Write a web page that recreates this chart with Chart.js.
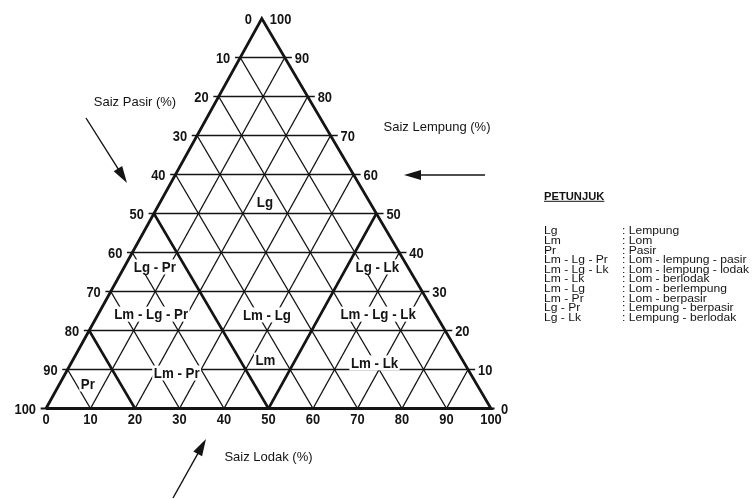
<!DOCTYPE html>
<html><head><meta charset="utf-8">
<script src="https://cdn.jsdelivr.net/npm/chart.js@4/dist/chart.umd.min.js"></script>
<style>html,body{margin:0;padding:0;background:#fff;overflow:hidden}#wrap{position:relative;width:754px;height:499px}</style>
</head><body><div id="wrap"><canvas id="c" width="754" height="499"></canvas></div>
<script>
// ---- data ----
const levels = [0,10,20,30,40,50,60,70,80,90,100];          // Lempung levels (horizontal lines)
const lempungLabels = ['0','10','20','30','40','50','60','70','80','90','100'];   // right side
const pasirLabels = ['100','90','80','70','60','50','40','30','20','10','0'];     // left side
const lodakPos = [0,10,20,30,40,50,60,70,80,90,100];         // base ticks
const lodakLabels = ['0','10','20','30','40','50','60','70','80','90','100'];
const classNames = ['Lg','Lg - Pr','Lg - Lk','Lm - Lg - Pr','Lm - Lg','Lm - Lg - Lk','Lm','Lm - Lk','Lm - Pr','Pr'];
const classX = [50,25,75,24,50,75,49.5,74,29.5,9.5];
const classH = [53,36.3,36.3,24.2,24,24.2,12.4,11.7,9.1,6.3];
const boundaryFrom = [[25,50],[50,0],[10,20]];
const boundaryTo   = [[50,0],[75,50],[20,0]];
const legendCodes = ['Lg','Lm','Pr','Lm - Lg - Pr','Lm - Lg - Lk','Lm - Lk','Lm - Lg','Lm - Pr','Lg - Pr','Lg - Lk'];
const legendNames = ['Lempung','Lom','Pasir','Lom - lempung - pasir','Lom - lempung - lodak','Lom - berlodak','Lom - berlempung','Lom - berpasir','Lempung - berpasir','Lempung - berlodak'];
const titlePasir = 'Saiz Pasir (%)', titleLempung = 'Saiz Lempung (%)', titleLodak = 'Saiz Lodak (%)';
const legendTitle = 'PETUNJUK';

// ---- projection ----
const SKEW = -0.015;
const P = (x,h) => ({x: x + SKEW*h, y: h});
const INK = '#141414';

function seg(a, b, w){
  return {data:[P(a[0],a[1]), P(b[0],b[1])], showLine:true, borderColor:INK, borderWidth:w,
          pointRadius:0, fill:false, borderCapStyle:'butt'};
}
const datasets = [];
// horizontal grid lines with ticks on both sides
levels.forEach(L => { if (L < 100) datasets.push(seg([L/2 - 1.2, L], [100 - L/2 + (L===0?0.8:1.6), L], L===0?2:1.45)); });
// lines parallel to the left side and right side
lodakPos.forEach(t => {
  if (t>0 && t<100) {
    datasets.push(seg([t,0],[50 + t/2, 100 - t], 1.35));
    datasets.push(seg([t,0],[t/2, t], 1.35));
  }
});
// class boundaries
boundaryFrom.forEach((a,i) => datasets.push(seg(a, boundaryTo[i], 2.6)));
// outer triangle
datasets.push({data:[P(0,0),P(50,100),P(100,0),P(0,0)], showLine:true, borderColor:INK, borderWidth:2.8,
  pointRadius:0, fill:false, borderJoinStyle:'miter'});

function arrow(ctx, x1,y1,x2,y2){
  const ang = Math.atan2(y2-y1, x2-x1), len = 17, hw = 5;
  ctx.strokeStyle = INK; ctx.fillStyle = INK; ctx.lineWidth = 1.4;
  ctx.beginPath(); ctx.moveTo(x1,y1);
  ctx.lineTo(x2 - Math.cos(ang)*len*0.8, y2 - Math.sin(ang)*len*0.8); ctx.stroke();
  ctx.beginPath(); ctx.moveTo(x2,y2);
  ctx.lineTo(x2 - Math.cos(ang)*len - Math.sin(ang)*hw, y2 - Math.sin(ang)*len + Math.cos(ang)*hw);
  ctx.lineTo(x2 - Math.cos(ang)*len + Math.sin(ang)*hw, y2 - Math.sin(ang)*len - Math.cos(ang)*hw);
  ctx.closePath(); ctx.fill();
}
function stretchText(ctx, txt, x, y, sx, align){
  const w = ctx.measureText(txt).width * sx;
  let x0 = x;
  if (align === 'center') x0 = x - w/2; else if (align === 'right') x0 = x - w;
  ctx.save(); ctx.textAlign = 'left'; ctx.translate(x0,y); ctx.scale(sx,1); ctx.fillText(txt,0,0); ctx.restore();
  return w;
}

const decor = {
  id:'decor',
  afterDatasetsDraw(chart){
    const ctx = chart.ctx, sx = chart.scales.x, sy = chart.scales.y;
    const px = (X,h) => sx.getPixelForValue(X + SKEW*h), py = h => sy.getPixelForValue(h);
    ctx.save();
    ctx.fillStyle = INK;
    ctx.textBaseline = 'alphabetic';
    // tick labels
    ctx.font = 'bold 14px "Liberation Sans", Arial, sans-serif';
    const TS = 0.92;
    levels.forEach((L,i) => {
      const y = py(L) + 5;
      stretchText(ctx, pasirLabels[i], px(L/2, L) - 10, y, TS, 'right');
      stretchText(ctx, lempungLabels[i], px(100 - L/2, L) + (L===100?8:10), y, TS, 'left');
    });
    lodakPos.forEach((t,i) => stretchText(ctx, lodakLabels[i], px(t,0), py(0) + 15, TS, 'center'));
    // class labels with white boxes
    ctx.font = 'bold 14px "Liberation Sans", Arial, sans-serif';
    classNames.forEach((n,i) => {
      const x = px(classX[i], classH[i]), y = py(classH[i]);
      const w = ctx.measureText(n).width * 0.95;
      ctx.fillStyle = '#fff'; ctx.fillRect(x - w/2 - 1.5, y - 7.5, w + 3, 15);
      ctx.fillStyle = INK; stretchText(ctx, n, x, y + 5, 0.95, 'center');
    });
    // axis titles
    ctx.font = '13px "Liberation Sans", Arial, sans-serif';
    ctx.textAlign = 'center';
    ctx.fillText(titlePasir, 135, 106);
    ctx.fillText(titleLempung, 437, 130.5);
    ctx.fillText(titleLodak, 268.5, 460.5);
    // arrows
    arrow(ctx, 86,118, 127,183);
    arrow(ctx, 485,175, 404,175);
    arrow(ctx, 173,498, 206,439);
    // legend
    ctx.font = 'bold 10px "Liberation Sans", Arial, sans-serif';
    const tw = stretchText(ctx, legendTitle, 544, 199.5, 1.12, 'left');
    ctx.fillRect(544, 200.8, tw, 1);
    ctx.font = '11px "Liberation Sans", Arial, sans-serif';
    legendCodes.forEach((c,i) => {
      const y = 234.3 + i*9.63;
      stretchText(ctx, c, 544, y, 1.1, 'left');
      stretchText(ctx, ': ' + legendNames[i], 622, y, 1.1, 'left');
    });
    ctx.restore();
  }
};

new Chart(document.getElementById('c'), {
  type:'scatter',
  data:{datasets},
  options:{
    responsive:false, animation:false, events:[],
    layout:{padding:0},
    plugins:{legend:{display:false}, tooltip:{enabled:false}},
    scales:{
      x:{type:'linear', min:-10.337, max:159.10, display:false},
      y:{type:'linear', min:-23.205, max:104.744, display:false}
    }
  },
  plugins:[decor]
});
</script></body></html>
